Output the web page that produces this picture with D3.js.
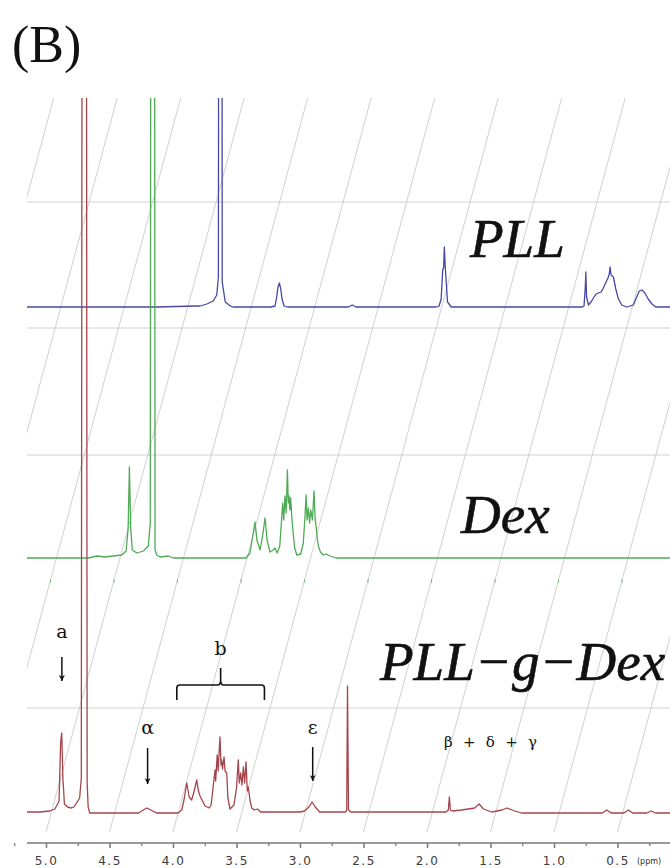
<!DOCTYPE html>
<html>
<head>
<meta charset="utf-8">
<style>
  body { margin: 0; background: #fff; }
  svg { display: block; }
  .tick text { font-family: "DejaVu Sans", sans-serif; }
</style>
</head>
<body>
<svg width="670" height="868"></svg>
<script src="https://d3js.org/d3.v7.min.js"></script>
<script>
  // chemical shift axis (ppm)
  var majorTicks = [5.0, 4.5, 4.0, 3.5, 3.0, 2.5, 2.0, 1.5, 1.0, 0.5];
  var minorTicks = [5.25, 4.75, 4.25, 3.75, 3.25, 2.75, 2.25, 1.75, 1.25, 0.75, 0.25];
  var gridPpm = [6.5, 6.0, 5.5, 5.0, 4.5, 4.0, 3.5, 3.0, 2.5, 2.0, 1.5, 1.0, 0.5, 0.0, -0.5];

  var traceNames = ["PLL", "Dex", "PLL\u2212g\u2212Dex"];

  // [ppm, intensity]; water peaks run off the top
  var pllTrace = [[6.25,0],[5.2,0],[4.9,1],[4.86,1],[4.805,3],[4.755,6],[4.727,12],[4.714,30],[4.705,1500],[4.691,1500],
    [4.684,25],[4.66,5],[4.62,1],[4.6,0],[4.3,0],[4.268,1],[4.255,10],[4.245,20],[4.234,24],[4.223,18],[4.213,8],
    [4.197,1],[4.17,0],[3.69,0],[3.66,2],[3.63,0],[3.0,0],[2.976,1],[2.96,8],[2.948,37],[2.94,40],[2.935,60],
    [2.927,38],[2.92,25],[2.91,5],[2.88,0],[1.85,0],[1.835,1],[1.825,20],[1.821,35],[1.815,10],[1.80,2],[1.78,5],
    [1.761,9],[1.74,13],[1.722,14],[1.70,15],[1.683,19],[1.665,24],[1.643,30],[1.635,34],[1.63,40],[1.622,32],
    [1.604,30],[1.585,18],[1.564,8],[1.538,2],[1.5,0],[1.447,2],[1.42,10],[1.40,16],[1.38,17],[1.355,14],[1.33,8],
    [1.30,3],[1.27,0],[1.1,0]];

  var dexTrace = [[5.7,0],[5.2,0],[5.136,2],[5.07,1],[5.005,2],[4.94,3],[4.905,7],[4.889,30],[4.879,91],[4.869,30],
    [4.856,8],[4.821,5],[4.769,7],[4.73,12],[4.715,35],[4.703,1500],[4.687,1500],[4.677,8],[4.664,3],[4.638,1],
    [4.572,2],[4.533,0],[3.96,0],[3.93,5],[3.91,20],[3.89,36],[3.875,18],[3.85,8],[3.83,22],[3.811,40],[3.795,18],
    [3.772,6],[3.745,8],[3.732,10],[3.715,5],[3.695,12],[3.68,40],[3.672,55],[3.664,38],[3.654,62],[3.645,45],
    [3.635,88],[3.628,55],[3.622,62],[3.615,48],[3.609,60],[3.6,40],[3.593,30],[3.578,10],[3.561,3],[3.53,4],
    [3.51,15],[3.497,40],[3.488,63],[3.48,38],[3.47,50],[3.46,35],[3.451,48],[3.438,38],[3.425,67],[3.416,38],
    [3.409,32],[3.4,20],[3.391,12],[3.375,6],[3.352,3],[3.33,4],[3.3,2],[3.25,0],[0.5,0]];

  var graftTrace = [[5.2,1],[5.05,1],[4.97,2],[4.93,4],[4.897,12],[4.885,70],[4.876,80],[4.867,35],[4.855,9],[4.83,6],
    [4.80,5],[4.78,6],[4.76,10],[4.735,15],[4.722,35],[4.711,1500],[4.686,1500],[4.676,30],[4.668,6],[4.655,0],
    [4.45,0],[4.27,0],[4.235,3],[4.205,5],[4.175,3],[4.13,0],[3.96,0],[3.931,3],[3.912,14],[3.892,30],[3.872,16],
    [3.853,13],[3.833,22],[3.813,33],[3.8,22],[3.787,17],[3.748,7],[3.715,5],[3.70,8],[3.685,25],[3.669,43],
    [3.664,32],[3.652,58],[3.645,42],[3.63,76],[3.622,48],[3.617,53],[3.61,44],[3.598,56],[3.59,42],[3.577,40],
    [3.568,15],[3.551,4],[3.52,8],[3.50,25],[3.486,53],[3.478,30],[3.467,40],[3.457,28],[3.446,46],[3.436,30],
    [3.425,51],[3.415,22],[3.407,26],[3.394,13],[3.38,5],[3.36,3],[3.335,4],[3.31,1],[3.0,1],[2.965,2],[2.93,6],
    [2.905,11],[2.88,6],[2.845,1],[2.64,1],[2.632,3],[2.626,127],[2.618,3],[2.60,1],[1.85,1],[1.832,3],[1.824,16],
    [1.816,3],[1.80,2],[1.73,3],[1.675,4],[1.625,5],[1.59,9],[1.555,4],[1.49,1],[1.41,3],[1.37,5],[1.31,2],
    [1.255,0],[0.62,0],[0.585,3],[0.55,0],[0.45,0],[0.415,3],[0.38,0],[0.27,0],[0.236,2],[0.20,0],[0.0,0]];

  var svg = d3.select("svg"),
    width = +svg.attr("width"),
    height = +svg.attr("height");

  var plotLeft = 27, plotTop = 98;
  var frontFloor = 832;   // floor of the front trace, the stack leans right going back
  var skew = 0.27;

  var x = d3.scaleLinear().domain([5.0, 0.5]).range([46, 617.5]);
  var y = d3.scaleLinear().domain([0, 100]).range([0, 100]);

  var traces = [
    { data: pllTrace, floor: 328, base: 307, color: "#4848a4" },
    { data: dexTrace, floor: 580, base: 558, color: "#4fab55" },
    { data: graftTrace, floor: frontFloor, base: 813, color: "#a5454b" }
  ];
  traces.forEach(function (t) { t.shift = skew * (frontFloor - t.floor); });

  svg.append("rect").attr("width", width).attr("height", height).attr("fill", "#fff");

  var defs = svg.append("defs");
  defs.append("clipPath").attr("id", "plot-clip")
    .append("rect")
    .attr("x", plotLeft).attr("y", plotTop)
    .attr("width", width - plotLeft).attr("height", frontFloor - plotTop + 2);

  defs.append("marker")
    .attr("id", "arrow")
    .attr("viewBox", "0 0 10 10")
    .attr("refX", 5).attr("refY", 10)
    .attr("markerWidth", 6).attr("markerHeight", 9)
    .attr("markerUnits", "userSpaceOnUse")
    .attr("orient", "0")
    .append("path")
    .attr("d", "M0,0 L5,3 L10,0 L5,10 Z")
    .attr("fill", "#111");

  var plot = svg.append("g").attr("clip-path", "url(#plot-clip)");

  // horizontal floor / mid lines of the stack
  plot.selectAll("line.hgrid")
    .data([202, 328, 455, 708])
    .enter().append("line")
    .attr("class", "hgrid")
    .attr("x1", plotLeft).attr("x2", width)
    .attr("y1", function (d) { return d; }).attr("y2", function (d) { return d; })
    .attr("stroke", "#d2d2d2").attr("stroke-width", 1);

  // slanted ppm grid
  plot.selectAll("line.sgrid")
    .data(gridPpm)
    .enter().append("line")
    .attr("class", "sgrid")
    .attr("x1", function (d) { return x(d); })
    .attr("y1", frontFloor)
    .attr("x2", function (d) { return x(d) + skew * (frontFloor - plotTop); })
    .attr("y2", plotTop)
    .attr("stroke", "#c4c4c4").attr("stroke-width", 0.8);

  // tick marks of the middle trace floor
  plot.selectAll("line.dexTick")
    .data(majorTicks.concat([5.5, 6.0]))
    .enter().append("line")
    .attr("class", "dexTick")
    .attr("x1", function (d) { return x(d) + traces[1].shift; })
    .attr("x2", function (d) { return x(d) + traces[1].shift; })
    .attr("y1", 579).attr("y2", 583)
    .attr("stroke", "#7cc07f").attr("stroke-width", 1);

  traces.forEach(function (t) {
    var line = d3.line()
      .x(function (d) { return x(d[0]) + t.shift; })
      .y(function (d) { return t.base - y(d[1]); });
    plot.append("path")
      .datum(t.data)
      .attr("d", line)
      .attr("fill", "none")
      .attr("stroke", t.color)
      .attr("stroke-width", 1.3)
      .attr("stroke-linejoin", "round");
  });

  // front axis
  svg.append("line")
    .attr("x1", plotLeft).attr("x2", width)
    .attr("y1", 843).attr("y2", 843)
    .attr("stroke", "#9a9a9a").attr("stroke-width", 2);

  var axis = svg.append("g")
    .attr("transform", "translate(0,843)")
    .call(d3.axisBottom(x).tickValues(majorTicks).tickSize(5).tickPadding(8).tickFormat(d3.format(".1f")));
  axis.select(".domain").remove();
  axis.selectAll(".tick line").attr("stroke", "#777").attr("stroke-width", 1.5);
  axis.selectAll(".tick text")
    .attr("font-size", 12)
    .attr("letter-spacing", "1.5px")
    .attr("fill", "#3a3a3a");

  var minor = svg.append("g")
    .attr("transform", "translate(0,843)")
    .call(d3.axisBottom(x).tickValues(minorTicks).tickSize(3).tickFormat(""));
  minor.select(".domain").remove();
  minor.selectAll(".tick line").attr("stroke", "#777").attr("stroke-width", 1.2);

  svg.append("text")
    .attr("x", 637).attr("y", 864)
    .attr("font-family", "DejaVu Sans, sans-serif")
    .attr("font-size", 8)
    .attr("fill", "#333")
    .text("(ppm)");

  // panel letter
  svg.append("text")
    .attr("x", 12).attr("y", 62)
    .attr("font-family", "Liberation Serif, serif")
    .attr("font-size", 52)
    .attr("fill", "#111")
    .text("(B)");

  // trace names
  var namePos = [[470, 257], [461, 533], [380, 680]];
  svg.selectAll("text.name")
    .data(traceNames)
    .enter().append("text")
    .attr("class", "name")
    .attr("x", function (d, i) { return namePos[i][0]; })
    .attr("y", function (d, i) { return namePos[i][1]; })
    .attr("font-family", "Liberation Serif, serif")
    .attr("font-style", "italic")
    .attr("font-size", 55)
    .attr("fill", "#111")
    .attr("stroke", "#111")
    .attr("stroke-width", 0.6)
    .text(function (d) { return d; });

  // peak assignments on the graft copolymer
  var notes = [
    { label: "a", ppm: 4.875, ty: 638, y1: 657, y2: 690 },
    { label: "\u03b1", ppm: 4.20, ty: 734, y1: 748, y2: 793 },
    { label: "\u03b5", ppm: 2.90, ty: 734, y1: 747, y2: 790 }
  ];
  var ann = svg.append("g").attr("font-family", "DejaVu Serif, serif").attr("fill", "#111");
  notes.forEach(function (n) {
    ann.append("text")
      .attr("x", x(n.ppm)).attr("y", n.ty)
      .attr("text-anchor", "middle")
      .attr("font-size", 19)
      .text(n.label);
    ann.append("line")
      .attr("x1", x(n.ppm)).attr("x2", x(n.ppm))
      .attr("y1", n.y1).attr("y2", n.y2 - 9)
      .attr("stroke", "#111").attr("stroke-width", 1.5)
      .attr("marker-end", "url(#arrow)");
  });

  var bLeft = x(3.97), bRight = x(3.28), bMid = x(3.625);
  ann.append("path")
    .attr("d", "M" + bLeft + ",700 L" + bLeft + ",688 Q" + bLeft + ",685 " + (bLeft + 3) + ",685 L" + (bMid - 3) + ",685 Q" +
      bMid + ",685 " + bMid + ",680 L" + bMid + ",668 M" + bMid + ",680 Q" + bMid + ",685 " + (bMid + 3) + ",685 L" +
      (bRight - 3) + ",685 Q" + bRight + ",685 " + bRight + ",688 L" + bRight + ",700")
    .attr("fill", "none").attr("stroke", "#111").attr("stroke-width", 1.6);
  ann.append("text")
    .attr("x", bMid).attr("y", 655)
    .attr("text-anchor", "middle")
    .attr("font-size", 19)
    .text("b");

  ann.append("text")
    .attr("x", x(1.5)).attr("y", 747)
    .attr("text-anchor", "middle")
    .attr("font-size", 15)
    .attr("textLength", 93)
    .text("\u03b2 + \u03b4 + \u03b3");
</script>
</body>
</html>
